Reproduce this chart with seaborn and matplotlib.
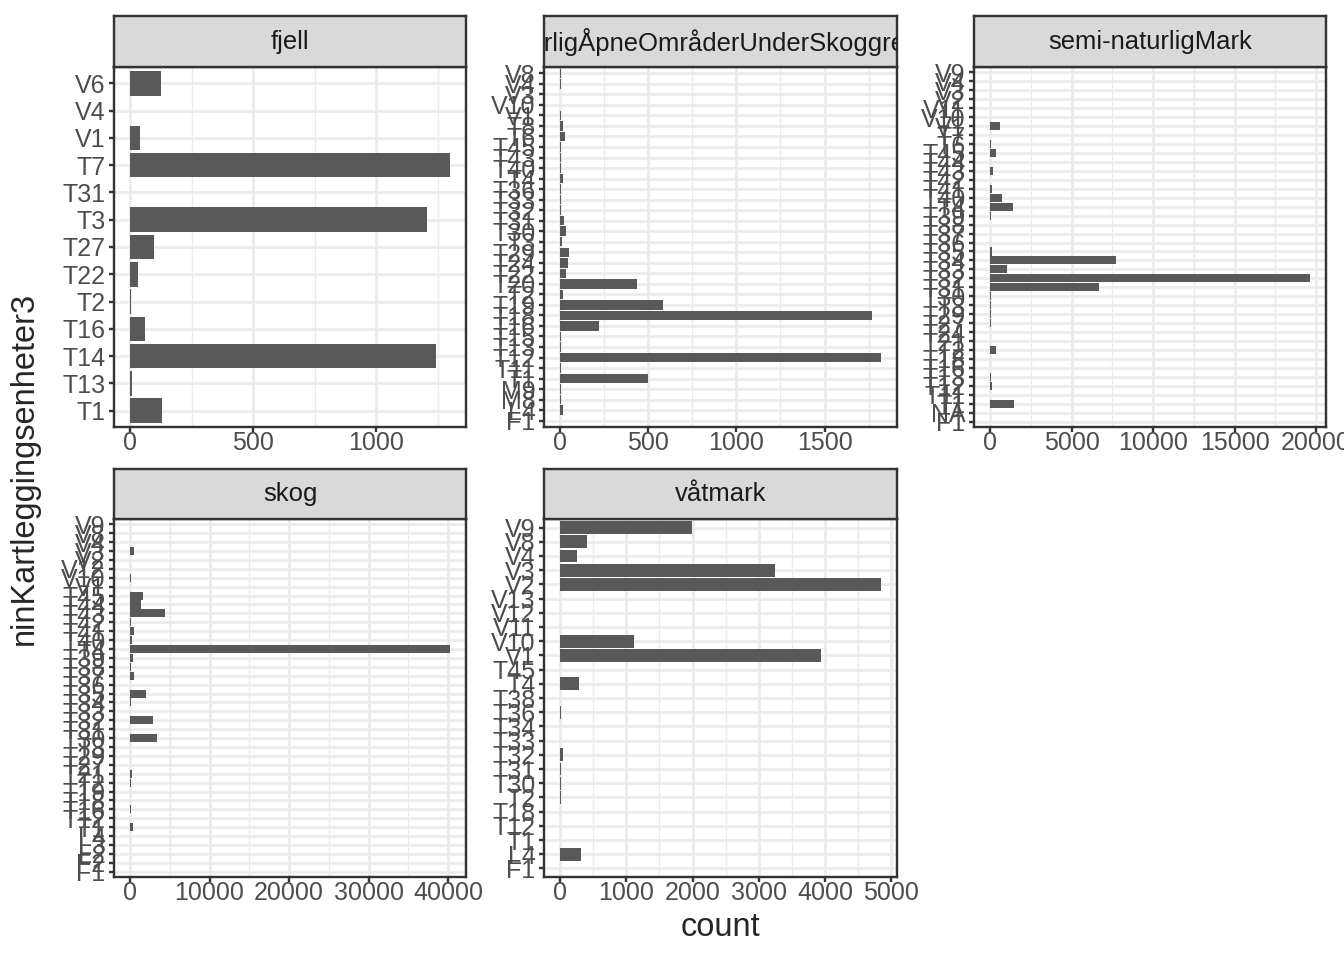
import matplotlib
matplotlib.use("Agg")
import matplotlib.pyplot as plt
import seaborn as sns
import pandas as pd
from matplotlib.ticker import MultipleLocator

sns.set_style("white")
plt.rcParams["font.family"] = ["Liberation Sans", "DejaVu Sans"]

# facets, in panel order
facets = ["fjell", "naturligÅpneOmråderUnderSkoggrensa", "semi-naturligMark", "skog", "våtmark"]

# categories listed top to bottom (ggplot puts the first level at the bottom)
fjell_units = ["V6", "V4", "V1", "T7", "T31", "T3", "T27", "T22", "T2", "T16", "T14", "T13", "T1"]
fjell_counts = [124, 2, 40, 1300, 2, 1205, 98, 32, 3, 60, 1245, 10, 132]

apne_units = ["V8", "V4", "V3", "V10", "V1", "T8", "T6", "T45", "T43", "T40", "T4", "T36",
              "T33", "T32", "T31", "T30", "T3", "T29", "T24", "T22", "T20", "T2", "T19",
              "T18", "T16", "T15", "T13", "T12", "T11", "T1", "M9", "M8", "L4", "F1"]
apne_counts = [3, 3, 2, 2, 5, 15, 26, 3, 4, 5, 15, 5, 4, 6, 20, 32, 10, 49, 43, 32,
               438, 17, 585, 1769, 220, 3, 4, 1820, 5, 500, 3, 3, 17, 1]

semi_units = ["V9", "V4", "V3", "V2", "V11", "V10", "V1", "T7", "T6", "T45", "T44", "T43",
              "T42", "T41", "T40", "T4", "T39", "T38", "T37", "T36", "T35", "T34", "T33",
              "T32", "T31", "T30", "T3", "T29", "T27", "T24", "T21", "T2", "T18", "T16",
              "T13", "T12", "T11", "T1", "NA", "F1"]
semi_counts = [20, 15, 25, 10, 8, 30, 610, 15, 40, 365, 30, 180, 20, 120, 730, 1400, 40,
               25, 30, 20, 100, 7720, 1030, 19630, 6690, 60, 70, 50, 40, 30, 20, 365, 30,
               20, 60, 100, 10, 1460, 5, 5]

skog_units = ["V9", "V8", "V4", "V3", "V2", "V12", "V10", "V1", "T45", "T44", "T43", "T42",
              "T41", "T40", "T4", "T39", "T38", "T37", "T36", "T35", "T34", "T33", "T32",
              "T31", "T30", "T3", "T29", "T27", "T21", "T2", "T19", "T18", "T16", "T12",
              "T1", "L4", "L3", "L2", "F2", "F1"]
skog_counts = [10, 15, 60, 500, 20, 10, 120, 20, 1620, 1370, 4360, 120, 500, 250, 40220,
               370, 100, 500, 30, 2000, 120, 30, 2860, 60, 3360, 40, 30, 40, 250, 100, 30,
               40, 120, 30, 370, 20, 10, 10, 10, 10]

vat_units = ["V9", "V8", "V4", "V3", "V2", "V13", "V12", "V11", "V10", "V1", "T45", "T4",
             "T38", "T36", "T34", "T33", "T32", "T31", "T30", "T2", "T18", "T12", "T1",
             "L4", "F1"]
vat_counts = [1995, 405, 255, 3240, 4845, 1, 3, 3, 1110, 3945, 1, 285, 2, 12, 4, 1, 45,
              12, 12, 12, 6, 4, 3, 315, 1]

units = [fjell_units, apne_units, semi_units, skog_units, vat_units]
counts = [fjell_counts, apne_counts, semi_counts, skog_counts, vat_counts]
x_steps = [500, 500, 5000, 10000, 1000]

df = pd.concat(
    [pd.DataFrame({"hovedtype": f, "ninKartleggingsenheter3": u, "count": c})
     for f, u, c in zip(facets, units, counts)],
    ignore_index=True,
)

W, H = 1344, 960
fig = plt.figure(figsize=(7, 5), dpi=192)

cols = [(114, 466), (544, 897), (974, 1326)]
rows = [(16, 67, 427), (469, 519, 877)]  # strip top, panel top, panel bottom

grey_bar = "#595959"
grid_col = "#EBEBEB"
dark = "#333333"

for i, f in enumerate(facets):
    r, c = divmod(i, 3)
    x0, x1 = cols[c]
    st, pt, pb = rows[r]
    ax = fig.add_axes([x0 / W, 1 - pb / H, (x1 - x0) / W, (pb - pt) / H])
    sub = df[df.hovedtype == f]
    sns.barplot(data=sub, x="count", y="ninKartleggingsenheter3", order=units[i],
                color=grey_bar, saturation=1, width=0.9, errorbar=None,
                linewidth=0, ax=ax)
    n = len(units[i])
    ax.set_ylim(n - 1 + 0.6, -0.6)
    mx = max(counts[i])
    ax.set_xlim(-0.05 * mx, 1.05 * mx)
    ax.xaxis.set_major_locator(MultipleLocator(x_steps[i]))
    ax.xaxis.set_minor_locator(MultipleLocator(x_steps[i] / 2))
    ax.set_axisbelow(True)
    ax.grid(which="major", color=grid_col, lw=1.0)
    ax.grid(which="minor", axis="x", color=grid_col, lw=0.5)
    ax.tick_params(which="minor", length=0)
    ax.tick_params(which="major", length=2, width=0.9, color=dark,
                   labelsize=9.4, labelcolor="#4D4D4D", pad=1.2,
                   left=True, bottom=True)
    ax.tick_params(axis="x", pad=-0.6)
    ax.set_xlabel("")
    ax.set_ylabel("")
    for s in ax.spines.values():
        s.set_color(dark)
        s.set_linewidth(0.9)
        s.set_visible(True)

    sax = fig.add_axes([x0 / W, 1 - pt / H, (x1 - x0) / W, (pt - st) / H])
    sax.set_facecolor("#D9D9D9")
    sax.set_xticks([])
    sax.set_yticks([])
    for s in sax.spines.values():
        s.set_color(dark)
        s.set_linewidth(0.9)
    sax.text(0.5, 0.5, f, transform=sax.transAxes, ha="center", va="center",
             fontsize=9.6, color="#1A1A1A", clip_on=True)

fig.text(720 / W, 1 - 927 / H, "count", ha="center", va="center", fontsize=12.2)
fig.text(24 / W, 1 - 468 / H, "ninKartleggingsenheter3", ha="center", va="center",
         rotation=90, fontsize=12.2)

fig.savefig("out.png", dpi=192, facecolor="white")
